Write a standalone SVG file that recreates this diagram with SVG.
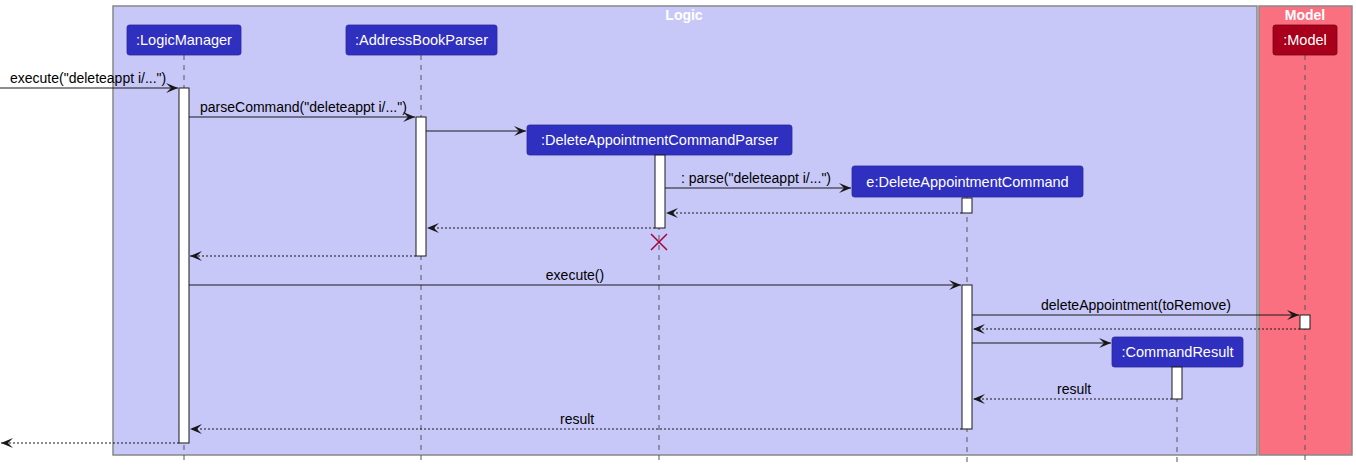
<svg xmlns="http://www.w3.org/2000/svg" width="1356" height="467" viewBox="0 0 1356 467">
<defs>
<style>
.box{stroke:#888888;stroke-width:1.5}
.btitle{font-family:"Liberation Sans",Arial,sans-serif;font-size:14px;font-weight:bold;fill:#ffffff;text-anchor:middle}
.p{fill:#3030C0;stroke:#2a2a9a;stroke-width:0.8}
.pm{fill:#A8001C;stroke:#7a0014;stroke-width:0.8}
.pt{font-family:"Liberation Sans",Arial,sans-serif;font-size:14.5px;fill:#ffffff;text-anchor:middle}
.life{stroke:#555555;stroke-width:1;stroke-dasharray:5,5;fill:none}
.act{fill:#ffffff;stroke:#181818;stroke-width:1}
.msg{stroke:#181818;stroke-width:1;fill:none}
.ret{stroke:#181818;stroke-width:1;fill:none;stroke-dasharray:2,2}
.lbl{font-family:"Liberation Sans",Arial,sans-serif;font-size:14px;fill:#000000}
</style>
<marker id="ah" viewBox="0 0 12 10" refX="12" refY="5" markerWidth="12" markerHeight="10" markerUnits="userSpaceOnUse" orient="auto">
<path d="M0,0 L12,5 L0,10 L5,5 Z" fill="#181818"/>
</marker>
</defs>
<rect width="1356" height="467" fill="#ffffff"/>
<g id="box-logic">
<rect class="box" x="113" y="6" width="1144" height="449" fill="#C8C8F8"/>
<text class="btitle" x="684" y="20">Logic</text>
</g>
<g id="box-model">
<rect class="box" x="1259" y="6" width="93" height="449" fill="#FA7080"/>
<text class="btitle" x="1305" y="20">Model</text>
</g>
<g id="lifelines">
<line class="life" x1="184" y1="55" x2="184" y2="462"/>
<line class="life" x1="421" y1="55" x2="421" y2="462"/>
<line class="life" x1="659" y1="155" x2="659" y2="462"/>
<line class="life" x1="967" y1="197" x2="967" y2="462"/>
<line class="life" x1="1177" y1="367" x2="1177" y2="462"/>
<line class="life" x1="1305" y1="55" x2="1305" y2="462"/>
</g>
<g id="LogicManager">
<rect class="p" x="127" y="25" width="114" height="30" rx="2.5"/>
<text class="pt" x="184" y="45">:LogicManager</text>
<rect class="act" x="179" y="88" width="10" height="355"/>
</g>
<g id="AddressBookParser">
<rect class="p" x="346" y="25" width="151" height="30" rx="2.5"/>
<text class="pt" x="421.5" y="45">:AddressBookParser</text>
<rect class="act" x="416" y="117" width="10" height="139"/>
</g>
<g id="DeleteAppointmentCommandParser">
<rect class="p" x="527" y="125" width="265" height="30" rx="2.5"/>
<text class="pt" x="659.5" y="145">:DeleteAppointmentCommandParser</text>
<rect class="act" x="655" y="155" width="10" height="73"/>
<path d="M651,234 L667,250 M667,234 L651,250" stroke="#A80036" stroke-width="1.5" fill="none"/>
</g>
<g id="DeleteAppointmentCommand">
<rect class="p" x="852" y="166" width="231" height="31" rx="2.5"/>
<text class="pt" x="967.5" y="187">e:DeleteAppointmentCommand</text>
<rect class="act" x="962" y="198" width="10" height="15"/>
<rect class="act" x="962" y="285" width="10" height="144"/>
</g>
<g id="CommandResult">
<rect class="p" x="1112" y="337" width="131" height="30" rx="2.5"/>
<text class="pt" x="1177.5" y="357">:CommandResult</text>
<rect class="act" x="1172" y="367" width="10" height="32"/>
</g>
<g id="Model">
<rect class="pm" x="1273" y="25" width="64" height="30" rx="2.5"/>
<text class="pt" x="1305" y="45">:Model</text>
<rect class="act" x="1300" y="315" width="10" height="14"/>
</g>
<g id="connectors">
<line class="msg" x1="0" y1="88" x2="178" y2="88" marker-end="url(#ah)"/>
<text class="lbl" x="10" y="83">execute("deleteappt i/...")</text>
<line class="msg" x1="189" y1="117" x2="415" y2="117" marker-end="url(#ah)"/>
<text class="lbl" x="200" y="112">parseCommand("deleteappt i/...")</text>
<line class="msg" x1="426" y1="131" x2="526" y2="131" marker-end="url(#ah)"/>
<line class="msg" x1="665" y1="188" x2="851" y2="188" marker-end="url(#ah)"/>
<text class="lbl" x="681" y="183">: parse("deleteappt i/...")</text>
<line class="ret" x1="962" y1="213" x2="666" y2="213" marker-end="url(#ah)"/>
<line class="ret" x1="655" y1="228" x2="427" y2="228" marker-end="url(#ah)"/>
<line class="ret" x1="416" y1="256" x2="190" y2="256" marker-end="url(#ah)"/>
<line class="msg" x1="189" y1="285" x2="961" y2="285" marker-end="url(#ah)"/>
<text class="lbl" x="575" y="280" text-anchor="middle">execute()</text>
<line class="msg" x1="972" y1="315" x2="1299" y2="315" marker-end="url(#ah)"/>
<text class="lbl" x="1041" y="310">deleteAppointment(toRemove)</text>
<line class="ret" x1="1300" y1="329" x2="973" y2="329" marker-end="url(#ah)"/>
<line class="msg" x1="972" y1="343" x2="1111" y2="343" marker-end="url(#ah)"/>
<line class="ret" x1="1172" y1="399" x2="973" y2="399" marker-end="url(#ah)"/>
<text class="lbl" x="1057" y="394">result</text>
<line class="ret" x1="962" y1="429" x2="190" y2="429" marker-end="url(#ah)"/>
<text class="lbl" x="560" y="424">result</text>
<line class="ret" x1="179" y1="443" x2="1" y2="443" marker-end="url(#ah)"/>
</g>
</svg>
